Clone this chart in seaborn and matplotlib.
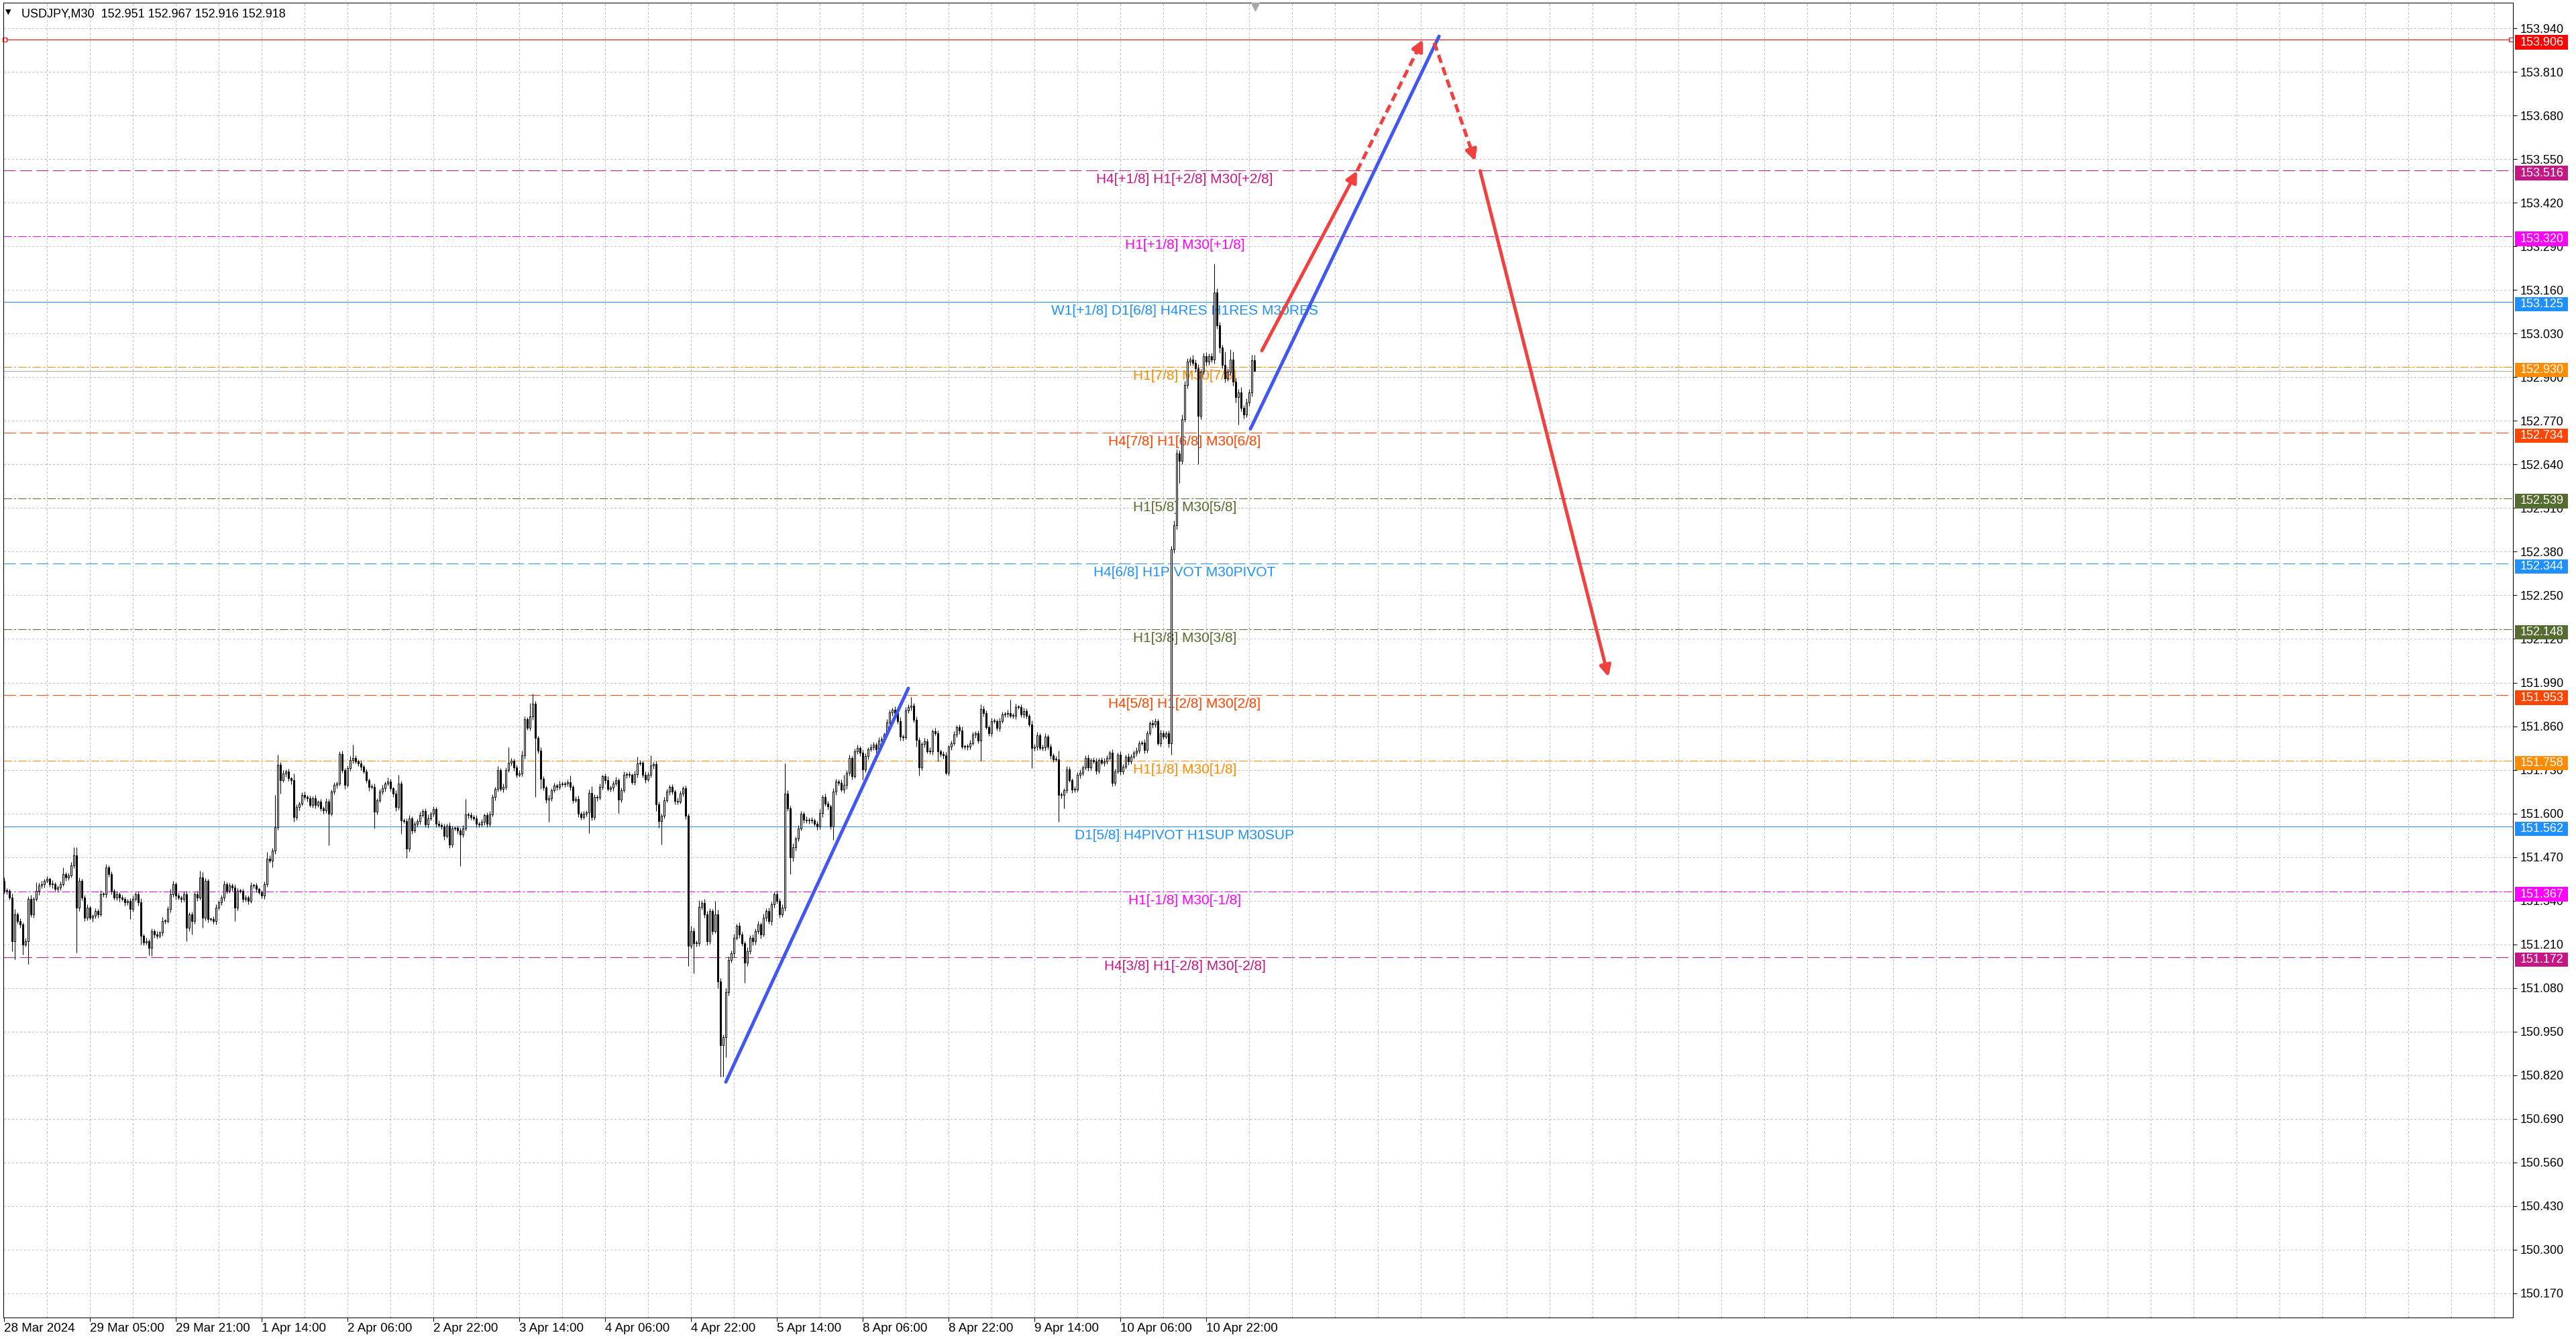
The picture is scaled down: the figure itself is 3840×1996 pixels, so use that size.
import numpy as np
import pandas as pd
import seaborn as sns
import matplotlib.pyplot as plt
import matplotlib.transforms as mtransforms
from matplotlib.patches import Rectangle

symbol_title = "USDJPY,M30  152.951 152.967 152.916 152.918"
first_open = 151.40

# M30 closes (open = previous close)
closes = [
    151.37, 151.37, 151.35, 151.22, 151.30, 151.28, 151.27, 151.21, 151.22, 151.345,
    151.30, 151.345, 151.37, 151.385, 151.39, 151.40, 151.405, 151.39, 151.39, 151.375,
    151.38, 151.39, 151.42, 151.41, 151.415, 151.445, 151.475, 151.32, 151.40, 151.35,
    151.29, 151.32, 151.29, 151.295, 151.31, 151.30, 151.36, 151.36, 151.44, 151.42,
    151.37, 151.35, 151.36, 151.35, 151.345, 151.335, 151.34, 151.315, 151.345, 151.36,
    151.335, 151.235, 151.215, 151.22, 151.20, 151.25, 151.24, 151.235, 151.245, 151.28,
    151.28, 151.315, 151.36, 151.39, 151.355, 151.35, 151.345, 151.36, 151.26, 151.30,
    151.28, 151.36, 151.35, 151.41, 151.29, 151.40, 151.285, 151.285, 151.28, 151.32,
    151.335, 151.35, 151.39, 151.37, 151.385, 151.38, 151.32, 151.37, 151.37, 151.345,
    151.35, 151.34, 151.385, 151.385, 151.375, 151.365, 151.355, 151.39, 151.465, 151.46,
    151.49, 151.56, 151.745, 151.70, 151.72, 151.725, 151.705, 151.70, 151.59, 151.62,
    151.63, 151.655, 151.65, 151.645, 151.625, 151.645, 151.625, 151.635, 151.615, 151.61,
    151.635, 151.60, 151.665, 151.685, 151.69, 151.778, 151.73, 151.685, 151.735, 151.76,
    151.765, 151.755, 151.75, 151.74, 151.725, 151.70, 151.68, 151.68, 151.605, 151.64,
    151.665, 151.675, 151.69, 151.695, 151.675, 151.66, 151.62, 151.69, 151.58, 151.578,
    151.495, 151.585, 151.55, 151.57, 151.578, 151.595, 151.607, 151.568, 151.585, 151.60,
    151.613, 151.57, 151.566, 151.562, 151.533, 151.564, 151.507, 151.555, 151.557, 151.55,
    151.538, 151.555, 151.598, 151.596, 151.59, 151.586, 151.57, 151.567, 151.575, 151.595,
    151.57, 151.598, 151.65, 151.673, 151.73, 151.673, 151.68, 151.73, 151.752, 151.757,
    151.738, 151.716, 151.72, 151.773, 151.881, 151.855, 151.89, 151.928, 151.825, 151.787,
    151.704, 151.678, 151.641, 151.645, 151.67, 151.683, 151.68, 151.688, 151.688, 151.69,
    151.693, 151.679, 151.64, 151.643, 151.60, 151.59, 151.599, 151.603, 151.661, 151.59,
    151.65, 151.647, 151.68, 151.711, 151.70, 151.674, 151.678, 151.69, 151.70, 151.642,
    151.669, 151.716, 151.718, 151.715, 151.694, 151.718, 151.75, 151.752, 151.715, 151.702,
    151.715, 151.744, 151.748, 151.628, 151.578, 151.594, 151.64, 151.666, 151.68, 151.665,
    151.637, 151.635, 151.659, 151.676, 151.594, 151.206, 151.25, 151.214, 151.214, 151.321,
    151.333, 151.30, 151.22, 151.309, 151.25, 151.299, 151.10, 150.91, 150.934, 151.068,
    151.163, 151.183, 151.23, 151.266, 151.24, 151.214, 151.155, 151.19, 151.23, 151.22,
    151.25, 151.27, 151.24, 151.29, 151.31, 151.28, 151.33, 151.36, 151.34, 151.30,
    151.32, 151.659, 151.615, 151.47, 151.50, 151.525, 151.555, 151.60, 151.582, 151.579,
    151.58, 151.579, 151.569, 151.562, 151.602, 151.649, 151.629, 151.622, 151.562, 151.665,
    151.695, 151.692, 151.672, 151.685, 151.722, 151.765, 151.712, 151.785, 151.795, 151.782,
    151.732, 151.772, 151.792, 151.797, 151.805, 151.792, 151.818, 151.822, 151.835, 151.872,
    151.902, 151.91, 151.90, 151.875, 151.83, 151.828, 151.908, 151.918, 151.922, 151.88,
    151.82, 151.738, 151.808, 151.815, 151.786, 151.786, 151.845, 151.84, 151.786, 151.778,
    151.773, 151.722, 151.80, 151.81, 151.835, 151.858, 151.848, 151.80, 151.80, 151.80,
    151.81, 151.835, 151.84, 151.818, 151.912, 151.90, 151.858, 151.84, 151.875, 151.876,
    151.855, 151.875, 151.895, 151.897, 151.90, 151.892, 151.892, 151.918, 151.917, 151.895,
    151.906, 151.892, 151.865, 151.795, 151.80, 151.833, 151.795, 151.797, 151.83, 151.80,
    151.773, 151.762, 151.762, 151.655, 151.655, 151.67, 151.732, 151.70, 151.672, 151.672,
    151.715, 151.722, 151.738, 151.766, 151.738, 151.76, 151.755, 151.727, 151.76, 151.752,
    151.755, 151.765, 151.782, 151.692, 151.725, 151.775, 151.725, 151.74, 151.769, 151.755,
    151.77, 151.782, 151.787, 151.81, 151.812, 151.79, 151.84, 151.87, 151.865, 151.876,
    151.81, 151.84, 151.83, 151.84, 151.81, 152.386, 152.458, 152.672, 152.651, 152.774,
    152.876, 152.947, 152.952, 152.942, 152.927, 152.784, 152.917, 152.962, 152.947, 152.962,
    152.952, 153.153, 153.054, 152.988, 152.937, 152.896, 152.917, 152.952, 152.886, 152.84,
    152.855, 152.809, 152.789, 152.825, 152.855, 152.951, 152.918,
]

# wick lengths above / below the body, in points (0.001)
wick_up = [
    10, 8, 5, 12, 15, 6, 8, 5, 10, 8, 12, 6, 25, 8, 10, 6, 8, 5, 12, 6,
    5, 8, 20, 6, 8, 10, 25, 25, 10, 6, 8, 10, 6, 5, 8, 6, 12, 5, 10, 5,
    8, 6, 10, 5, 8, 6, 5, 8, 10, 6, 8, 12, 6, 10, 5, 8, 6, 10, 5, 12,
    6, 8, 15, 10, 6, 8, 5, 8, 10, 6, 8, 6, 10, 20, 15, 8, 6, 5, 8, 10,
    6, 8, 10, 5, 8, 6, 10, 8, 5, 6, 8, 5, 10, 6, 8, 5, 6, 8, 20, 10,
    8, 95, 30, 8, 10, 6, 8, 5, 20, 8, 6, 8, 10, 5, 8, 6, 10, 5, 8, 6,
    10, 8, 6, 8, 5, 8, 10, 6, 8, 12, 40, 8, 6, 10, 5, 8, 6, 8, 10, 6,
    8, 10, 6, 12, 8, 5, 10, 25, 8, 6, 8, 10, 6, 8, 5, 10, 6, 8, 12, 5,
    8, 6, 10, 5, 8, 6, 10, 8, 5, 6, 8, 10, 45, 6, 8, 5, 10, 6, 8, 5,
    8, 10, 8, 6, 12, 5, 10, 8, 45, 8, 6, 8, 10, 15, 8, 6, 40, 30, 8, 6,
    10, 8, 6, 10, 5, 8, 6, 10, 8, 5, 8, 20, 6, 8, 10, 5, 8, 6, 10, 20,
    8, 6, 10, 5, 8, 12, 6, 8, 10, 6, 8, 10, 6, 8, 5, 10, 20, 8, 6, 10,
    8, 30, 6, 10, 8, 6, 10, 8, 5, 8, 6, 10, 8, 5, 8, 6, 15, 10, 8, 20,
    8, 12, 10, 8, 6, 40, 15, 10, 8, 12, 10, 8, 12, 6, 10, 8, 6, 12, 8, 10,
    8, 10, 6, 12, 8, 10, 8, 6, 10, 8, 10, 90, 10, 8, 12, 6, 10, 8, 6, 10,
    8, 10, 6, 8, 12, 6, 10, 8, 6, 10, 8, 6, 10, 30, 8, 10, 6, 8, 10, 6,
    10, 8, 6, 10, 8, 6, 10, 8, 6, 10, 8, 6, 10, 8, 12, 6, 10, 8, 25, 8,
    10, 8, 6, 10, 8, 12, 6, 10, 8, 6, 8, 10, 6, 8, 10, 6, 8, 12, 6, 8,
    10, 8, 6, 8, 14, 10, 8, 6, 10, 8, 6, 10, 8, 6, 10, 40, 8, 10, 6, 8,
    10, 8, 6, 12, 8, 10, 6, 8, 10, 6, 8, 6, 10, 25, 8, 6, 10, 8, 6, 10,
    8, 10, 6, 8, 10, 6, 8, 10, 6, 8, 10, 8, 6, 10, 8, 6, 10, 8, 6, 10,
    8, 6, 10, 8, 6, 10, 8, 6, 10, 8, 6, 10, 8, 6, 8, 10, 15, 12, 10, 15,
    12, 10, 8, 15, 10, 12, 8, 10, 12, 8, 10, 85, 12, 10, 8, 40, 10, 30, 25, 12,
    10, 15, 8, 12, 10, 15, 16,
]
wick_dn = [
    8, 10, 6, 31, 55, 8, 10, 30, 6, 68, 8, 10, 6, 12, 8, 10, 6, 8, 12, 6,
    10, 8, 6, 10, 8, 6, 8, 135, 10, 8, 10, 8, 6, 12, 8, 10, 6, 8, 10, 8,
    10, 6, 8, 12, 6, 10, 8, 30, 8, 6, 10, 25, 8, 6, 22, 25, 10, 8, 6, 10,
    8, 6, 10, 8, 12, 6, 10, 8, 40, 10, 40, 8, 10, 6, 30, 8, 10, 6, 8, 10,
    6, 8, 10, 8, 6, 10, 40, 8, 6, 10, 8, 10, 6, 8, 10, 6, 8, 10, 8, 6,
    20, 10, 8, 40, 6, 10, 8, 12, 15, 8, 10, 6, 8, 10, 6, 8, 10, 6, 8, 10,
    8, 95, 6, 8, 10, 6, 8, 12, 6, 8, 10, 6, 8, 10, 6, 8, 12, 6, 50, 8,
    6, 8, 10, 6, 8, 10, 12, 8, 40, 6, 28, 8, 10, 6, 8, 10, 6, 8, 10, 6,
    8, 10, 6, 8, 12, 6, 10, 8, 6, 10, 95, 8, 6, 10, 8, 6, 10, 8, 6, 10,
    10, 8, 6, 10, 8, 6, 10, 8, 6, 8, 10, 8, 6, 8, 10, 6, 8, 10, 176, 8,
    30, 8, 10, 65, 8, 6, 10, 8, 6, 8, 8, 10, 8, 6, 10, 8, 6, 8, 61, 10,
    8, 10, 6, 8, 10, 6, 8, 10, 6, 40, 8, 6, 10, 8, 6, 8, 10, 6, 8, 10,
    6, 8, 10, 20, 20, 71, 8, 6, 10, 8, 10, 8, 6, 8, 10, 60, 8, 90, 10, 8,
    8, 10, 12, 8, 10, 6, 20, 95, 95, 60, 10, 8, 12, 6, 10, 8, 60, 10, 8, 12,
    10, 8, 12, 6, 10, 8, 12, 10, 8, 10, 8, 10, 8, 50, 12, 10, 8, 6, 10, 8,
    10, 8, 6, 10, 8, 12, 6, 10, 8, 40, 10, 8, 6, 10, 12, 8, 10, 6, 8, 10,
    30, 8, 10, 6, 8, 10, 6, 8, 10, 6, 8, 10, 6, 8, 12, 10, 6, 8, 10, 8,
    20, 25, 8, 10, 6, 8, 10, 6, 30, 8, 10, 6, 8, 10, 6, 8, 10, 6, 8, 10,
    8, 6, 10, 8, 60, 10, 6, 8, 10, 6, 8, 10, 6, 8, 10, 6, 8, 10, 6, 8,
    10, 8, 6, 60, 8, 10, 6, 8, 10, 8, 10, 8, 6, 80, 10, 40, 8, 6, 10, 8,
    6, 10, 8, 6, 10, 8, 6, 10, 8, 6, 10, 8, 6, 10, 8, 6, 10, 8, 6, 10,
    8, 6, 10, 8, 6, 10, 8, 6, 10, 8, 6, 10, 8, 6, 12, 35, 10, 12, 66, 10,
    8, 10, 12, 8, 10, 143, 10, 8, 12, 10, 8, 12, 10, 15, 10, 12, 8, 10, 12, 15,
    82, 10, 12, 8, 10, 12, 2,
]

time_labels = ["28 Mar 2024", "29 Mar 05:00", "29 Mar 21:00", "1 Apr 14:00", "2 Apr 06:00",
               "2 Apr 22:00", "3 Apr 14:00", "4 Apr 06:00", "4 Apr 22:00", "5 Apr 14:00",
               "8 Apr 06:00", "8 Apr 22:00", "9 Apr 14:00", "10 Apr 06:00", "10 Apr 22:00"]
time_label_bars = [0, 32, 64, 96, 128, 160, 192, 224, 256, 288, 320, 352, 384, 416, 448]

price_ticks = [153.94, 153.81, 153.68, 153.55, 153.42, 153.29, 153.16, 153.03, 152.90, 152.77,
               152.64, 152.51, 152.38, 152.25, 152.12, 151.99, 151.86, 151.73, 151.60, 151.47,
               151.34, 151.21, 151.08, 150.95, 150.82, 150.69, 150.56, 150.43, 150.30, 150.17]

level_prices = [153.516, 153.320, 153.125, 152.930, 152.734, 152.539, 152.344,
                152.148, 151.953, 151.758, 151.562, 151.367, 151.172]
level_names = ["H4[+1/8] H1[+2/8] M30[+2/8]", "H1[+1/8] M30[+1/8]",
               "W1[+1/8] D1[6/8] H4RES H1RES M30RES", "H1[7/8] M30[7/8]",
               "H4[7/8] H1[6/8] M30[6/8]", "H1[5/8] M30[5/8]", "H4[6/8] H1PIVOT M30PIVOT",
               "H1[3/8] M30[3/8]", "H4[5/8] H1[2/8] M30[2/8]", "H1[1/8] M30[1/8]",
               "D1[5/8] H4PIVOT H1SUP M30SUP", "H1[-1/8] M30[-1/8]", "H4[3/8] H1[-2/8] M30[-2/8]"]
level_colors = ["#C71585", "#FF00FF", "#1E90FF", "#FF8C00", "#FF4500", "#556B2F", "#1E90FF",
                "#556B2F", "#FF4500", "#FF8C00", "#1E90FF", "#FF00FF", "#C71585"]
level_styles = ["dash", "dashdot", "solid", "dashdot", "dash", "dashdot", "dash",
                "dashdot", "dash", "dashdot", "solid", "dashdot", "dash"]

target_price = 153.906
bid_price = 152.918

# trend lines and forecast arrows: (bar, price)
blue_lines = [[(269.0, 150.800), (337.0, 151.973)],
              [(464.5, 152.746), (534.8, 153.916)]]
red_arrows = [[(468.75, 152.979), (504.25, 153.515), "solid"],
              [(504.25, 153.515), (528.75, 153.906), "dashed"],
              [(533.0, 153.897), (548.25, 153.544), "dashed"],
              [(550.1, 153.515), (597.9, 152.007), "solid"]]

# ---------------------------------------------------------------
df = pd.DataFrame({"close": closes, "up": wick_up, "dn": wick_dn})
df["bar"] = np.arange(len(df))
df["open"] = df["close"].shift(1).fillna(first_open)
df["top"] = df[["open", "close"]].max(axis=1)
df["bottom"] = df[["open", "close"]].min(axis=1)
df["high"] = df["top"] + df["up"] / 1000
df["low"] = df["bottom"] - df["dn"] / 1000
df["bull"] = df["close"] >= df["open"]

sns.set_theme(style="white")
plt.rcParams["font.family"] = ["Liberation Sans", "DejaVu Sans"]
plt.rcParams["lines.scale_dashes"] = False

fig = plt.figure(figsize=(38.4, 19.96), dpi=100)
ax = fig.add_axes([5 / 3840, 32 / 1996, 3741 / 3840, 1960 / 1996])
ax.set_xlim(-0.25, 935)
ax.set_ylim(150.098, 154.016)

# grid
for p in price_ticks:
    ax.axhline(p, color="#c4c4c4", lw=0.75, dashes=(2.2, 2.2), zorder=1)
for b in range(16, 935, 16):
    ax.axvline(b, color="#c4c4c4", lw=0.75, dashes=(2.2, 2.2), zorder=1)

# murrey levels
dash_map = {"dash": (13, 4.6), "dashdot": (9, 2.2, 2.2, 2.2)}
for p, name, c, st in zip(level_prices, level_names, level_colors, level_styles):
    kw = {} if st == "solid" else {"dashes": dash_map[st]}
    ax.axhline(p, color=c, lw=0.75, zorder=2, **kw)
    ax.text(440, p - 0.038, name, color=c, fontsize=15, ha="center", va="baseline", zorder=2.2)

ax.axhline(target_price, color="red", lw=0.75, zorder=2)
ax.plot([0.3, 934.3], [target_price, target_price], ls="none", marker="s", ms=4,
        mfc="white", mec="red", mew=0.8, zorder=2.5, clip_on=False)
ax.axhline(bid_price, color="#a8a8a8", lw=0.75, zorder=2)

# candles
ax.vlines(df["bar"], df["low"], df["high"], color="black", lw=0.75, zorder=3)
ax.bar(df["bar"], (df["top"] - df["bottom"]).clip(lower=0.0015), bottom=df["bottom"],
       width=0.62, color=np.where(df["bull"], "white", "black"), edgecolor="black",
       linewidth=0.75, zorder=4)

# trend lines
for (x0, y0), (x1, y1) in blue_lines:
    sns.lineplot(x=[x0, x1], y=[y0, y1], ax=ax, color="#4157F0", lw=3.6, sort=False,
                 estimator=None, solid_capstyle="round", zorder=5)

red = "#F04040"
head = "-|>,head_length=0.7,head_width=0.35"
for (x0, y0), (x1, y1), style in red_arrows:
    if style == "solid":
        ax.annotate("", xy=(x1, y1), xytext=(x0, y0), zorder=6,
                    arrowprops=dict(arrowstyle=head, color=red, lw=3.6, mutation_scale=14,
                                    shrinkA=0, shrinkB=0, capstyle="round"))
    else:
        xe, ye = x1 - 0.06 * (x1 - x0), y1 - 0.06 * (y1 - y0)
        ax.plot([x0, xe], [y0, ye], color=red, lw=3.6, dashes=(9, 5), zorder=6)
        ax.annotate("", xy=(x1, y1), xytext=(x1 - 0.1 * (x1 - x0), y1 - 0.1 * (y1 - y0)),
                    zorder=6, arrowprops=dict(arrowstyle=head, color=red, lw=3.6,
                                              mutation_scale=14, shrinkA=0, shrinkB=0))

# chart shift marker
ax.plot(466.3, 154.004, marker="v", ms=8, color="#a8a8a8", clip_on=False, zorder=6)

# axes
for s in ax.spines.values():
    s.set_visible(True)
    s.set_color("black")
    s.set_linewidth(0.75)

ax.yaxis.tick_right()
ax.set_yticks(price_ticks)
ax.set_yticklabels([f"{p:.3f}" for p in price_ticks])
ax.tick_params(axis="y", right=True, left=False, length=4, width=0.75, pad=4,
               labelsize=13, colors="black", direction="out")
ax.set_xticks(time_label_bars)
ax.set_xticklabels(time_labels, ha="left")
ax.tick_params(axis="x", bottom=True, length=4, width=0.75, pad=1.5,
               labelsize=13.5, colors="black", direction="out")
ax.grid(False)

# coloured price tags on the right scale
trans = mtransforms.blended_transform_factory(ax.transAxes, ax.transData)
tag_prices = [target_price] + level_prices
tag_colors = ["#FF0000"] + level_colors
for p, c in zip(tag_prices, tag_colors):
    ax.add_patch(Rectangle((1.0008, p - 0.0295), 0.0211, 0.043, transform=trans,
                           facecolor=c, edgecolor="none", clip_on=False, zorder=10))
    ax.text(1.0029, p - 0.008, f"{p:.3f}", transform=trans, color="white", fontsize=13,
            ha="left", va="center", zorder=11, clip_on=False)

fig.text(8 / 3840, 1 - 21 / 1996, "\u25bc", fontsize=8, family="DejaVu Sans",
         color="black", va="baseline")
fig.text(32 / 3840, 1 - 26 / 1996, symbol_title, fontsize=13, color="black", va="baseline")

fig.savefig("out.png", dpi=100)
